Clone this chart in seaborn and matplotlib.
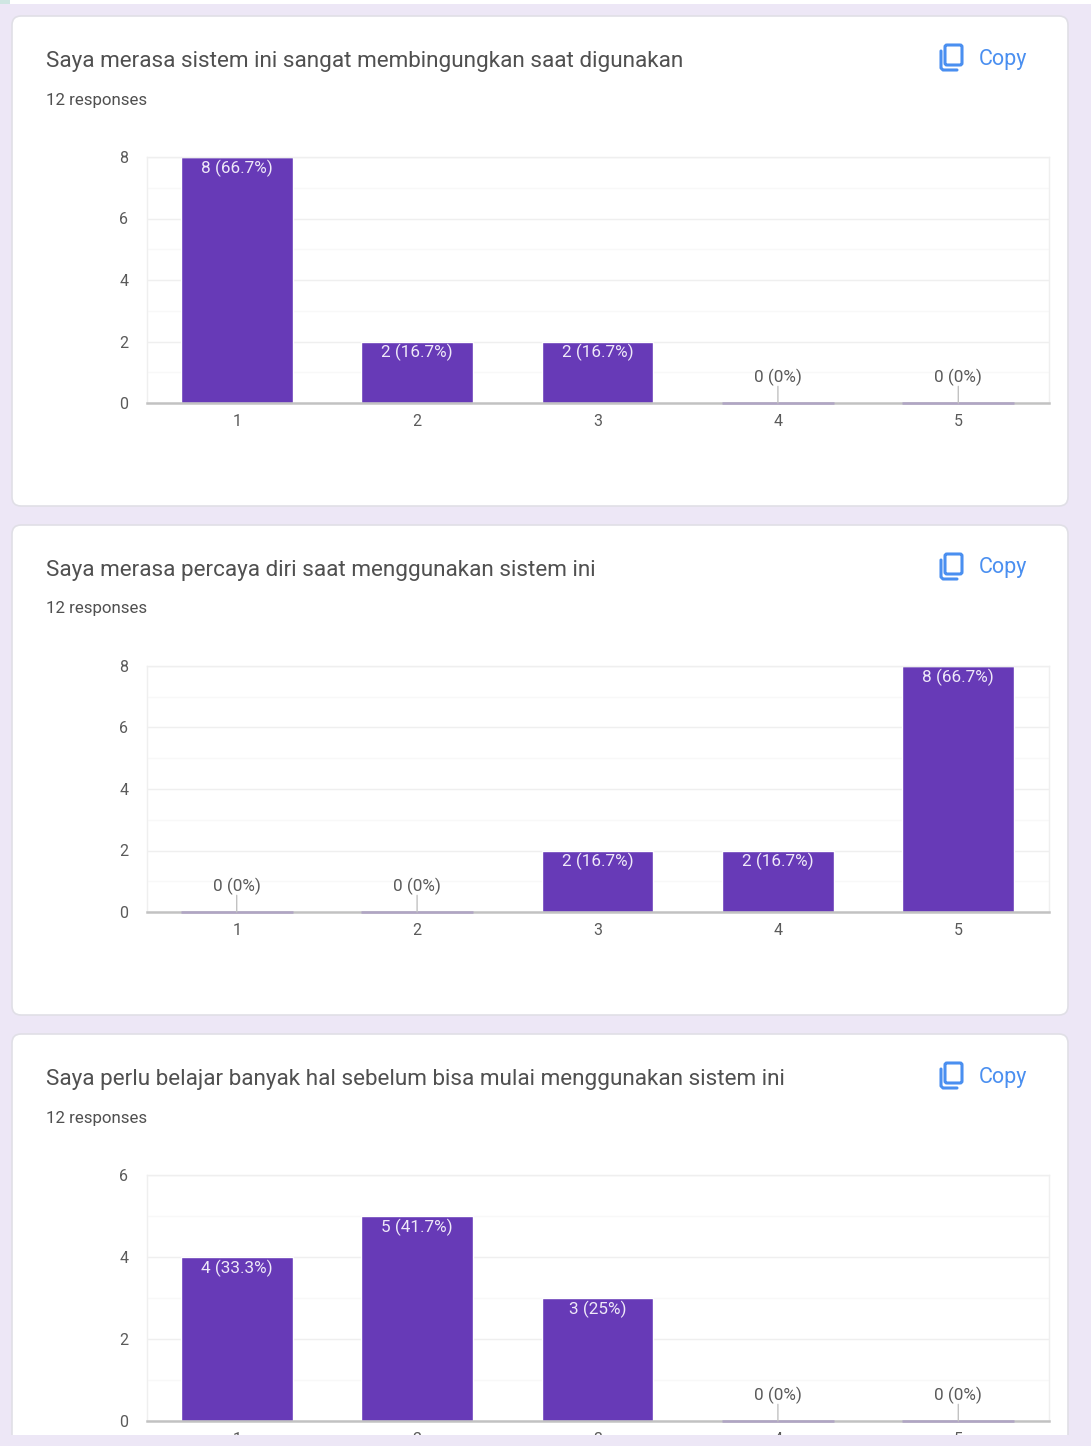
import pandas as pd
import seaborn as sns
import matplotlib.pyplot as plt
from matplotlib.patches import FancyBboxPatch, Rectangle
from matplotlib.ticker import MultipleLocator

W, H = 1091, 1446

categories = ["1", "2", "3", "4", "5"]

titles = [
    "Saya merasa sistem ini sangat membingungkan saat digunakan",
    "Saya merasa percaya diri saat menggunakan sistem ini",
    "Saya perlu belajar banyak hal sebelum bisa mulai menggunakan sistem ini",
]
responses = "12 responses"

counts_q1 = [8, 2, 2, 0, 0]
counts_q2 = [0, 0, 2, 2, 8]
counts_q3 = [4, 5, 3, 0, 0]

labels_q1 = ["8 (66.7%)", "2 (16.7%)", "2 (16.7%)", "0 (0%)", "0 (0%)"]
labels_q2 = ["0 (0%)", "0 (0%)", "2 (16.7%)", "2 (16.7%)", "8 (66.7%)"]
labels_q3 = ["4 (33.3%)", "5 (41.7%)", "3 (25%)", "0 (0%)", "0 (0%)"]

y_max = [8, 8, 6]

PURPLE = "#673ab7"
LAVENDER = "#ede7f6"
BLUE = "#4a8ff0"
GREY = "#5a5a5a"

sns.set_theme(style="white")
plt.rcParams["font.family"] = ["Roboto", "DejaVu Sans"]

fig = plt.figure(figsize=(W / 100, H / 100), dpi=100, facecolor=LAVENDER)

# page background, in pixels
bg = fig.add_axes([0, 0, 1, 1], zorder=0)
bg.set_xlim(0, W)
bg.set_ylim(H, 0)
bg.axis("off")
bg.add_patch(Rectangle((0, 0), W, 4, color="white", lw=0))
bg.add_patch(Rectangle((0, 0), 10, 4, color="#cfe6e2", lw=0))


def copy_icon(x, y):
    bg.add_patch(FancyBboxPatch((x + 6, y + 1), 17, 20, boxstyle="round,pad=0,rounding_size=2",
                                fc="white", ec=BLUE, lw=2.2))
    bg.plot([x + 2, x + 2, x + 4, x + 18], [y + 7, y + 24, y + 26, y + 26],
            color=BLUE, lw=2.2, solid_capstyle="round")


tops = [16, 525, 1034]
series = [counts_q1, counts_q2, counts_q3]
labels = [labels_q1, labels_q2, labels_q3]

for i, top in enumerate(tops):
    bg.add_patch(FancyBboxPatch((12, top), 1056, 490, boxstyle="round,pad=0,rounding_size=9",
                                fc="white", ec="#e0dfe6", lw=1.2))
    bg.text(46, top + 45.5, titles[i], fontsize=16.2, color="#505050", va="center", ha="left")
    bg.text(46, top + 84, responses, fontsize=12.2, color="#505050", va="center", ha="left")
    copy_icon(939, top + 28)
    bg.text(979, top + 43, "Copy", fontsize=15.5, color=BLUE, va="center", ha="left")

    # chart area in pixels: x 146-1048, height 246
    ax_top = top + 141
    ax = fig.add_axes([146.5 / W, 1 - (ax_top + 246) / H, 902 / W, 246 / H], zorder=1)
    ax.patch.set_alpha(0)
    df = pd.DataFrame({"answer": categories, "count": series[i]})
    sns.barplot(data=df, x="answer", y="count", color=PURPLE, saturation=1, width=0.62, ax=ax)
    ax.set_xlim(-0.5, 4.5)
    ax.set_ylim(0, y_max[i])
    ax.set_xlabel("")
    ax.set_ylabel("")
    ax.yaxis.set_major_locator(MultipleLocator(2))
    ax.yaxis.set_minor_locator(MultipleLocator(1))
    ax.set_axisbelow(True)
    ax.grid(True, axis="y", which="major", color="#efefef", lw=1)
    ax.grid(True, axis="y", which="minor", color="#f8f8f8", lw=1)
    ax.tick_params(axis="y", which="both", length=0, pad=13, labelsize=11.5, labelcolor=GREY)
    ax.tick_params(axis="x", length=0, pad=8, labelsize=11.5, labelcolor=GREY)
    for side in ["top", "left", "right"]:
        ax.spines[side].set_color("#efefef")
        ax.spines[side].set_linewidth(1)
    ax.spines["bottom"].set_color("#c2c2c2")
    ax.spines["bottom"].set_linewidth(1.8)

    for j, v in enumerate(series[i]):
        if v == 0:
            # empty answers: flat bar on the axis with a leader up to the label
            ax.plot([j - 0.31, j + 0.31], [0, 0], color="#b0a5c4", lw=1.8, clip_on=False, zorder=3,
                    solid_capstyle="butt")
            ax.annotate("", xy=(j, 0), xytext=(0, 12), textcoords="offset points",
                        arrowprops=dict(arrowstyle="-", color="#c2c2c2", lw=1, shrinkA=0, shrinkB=0))
            ax.annotate(labels[i][j], xy=(j, 0), xytext=(0, 18.5), textcoords="offset points",
                        ha="center", va="center", fontsize=12.3, color=GREY)
        else:
            ax.annotate(labels[i][j], xy=(j, v), xytext=(0, -8), textcoords="offset points",
                        ha="center", va="center", fontsize=12.3, color="#efe9f8", annotation_clip=False)

# page is cut off under the third card
cover = fig.add_axes([0, 0, 1, 1], zorder=2)
cover.set_xlim(0, W)
cover.set_ylim(H, 0)
cover.axis("off")
cover.add_patch(Rectangle((0, 1435), W, H - 1435, color=LAVENDER, lw=0))

fig.savefig("out.png", dpi=100, facecolor=LAVENDER)
